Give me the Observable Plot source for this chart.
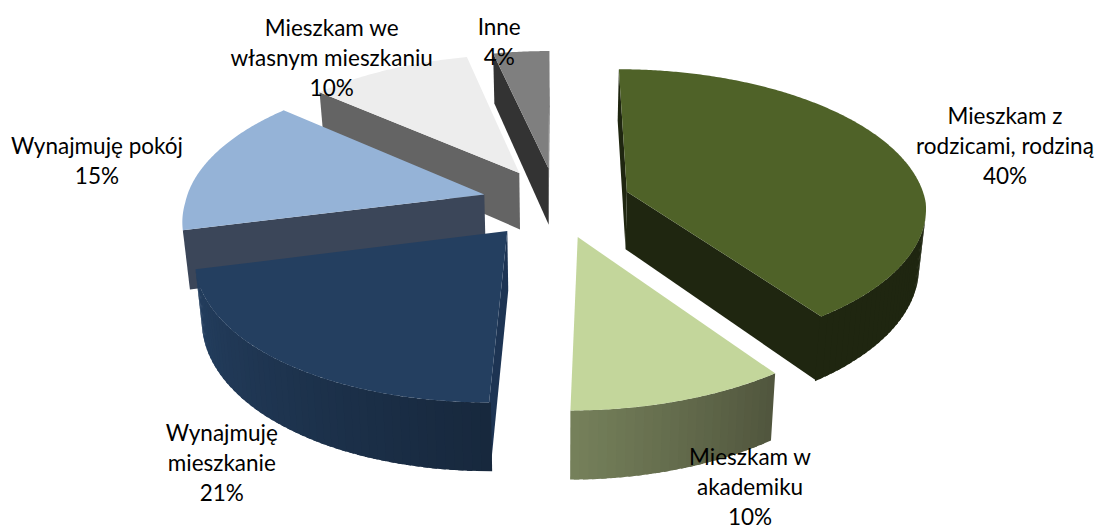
<!DOCTYPE html>
<html>
<head>
<meta charset="utf-8">
<style>
html,body{margin:0;padding:0;background:#fff;}
svg{display:block;}
</style>
<script src="https://cdn.jsdelivr.net/npm/d3@7"></script>
<script src="https://cdn.jsdelivr.net/npm/@observablehq/plot@0.6"></script>
</head>
<body>
<div id="chart"></div>
<script>
// Data
const categories = ["Mieszkam z\nrodzicami, rodziną", "Mieszkam w\nakademiku", "Wynajmuję\nmieszkanie", "Wynajmuję pokój", "Mieszkam we\nwłasnym mieszkaniu", "Inne"];
const values = [40, 10, 21, 15.4, 10.1, 3.5];

// Colours
const topColors = ["#4F6228", "#C3D69B", "#243F60", "#95B3D7", "#EDEDED", "#7F7F7F"];
const rimFrom = ["#1F2610", "#50553D", "#17283D", "#3B4659", "#646464", "#333333"];
const rimTo = ["#1F2610", "#76815B", "#243F60", "#3B4659", "#646464", "#333333"];
const edgeColors = ["#1F2610", "#50553D", "#1D3453", "#3B4659", "#646464", "#333333"];
const paintOrder = [5, 4, 3, 2, 1, 0];

// Camera / layout of the pie
const W = 1098, H = 528;
const cx = 556, cy = 202, rx = 299, ry = 141;
const perspective = 0.13, explode = 0.25, thickness = 58 / ry, skew = 11 / rx, floorShrink = 0.019;
const labelNudge = [[110, -6], [70, 85], [-61, 99], [-109, -4], [-57, -13], [-22, -11]];

const toRad = Math.PI / 180;
const arcs = d3.pie().sort(null)(values);

function project(u, v, drop = 0) {
  const w = 1 + perspective * v;
  const shrink = 1 - floorShrink * drop / thickness;
  return {x: (u / w + skew * Math.min(0, v)) * shrink, y: (v - drop) / w};
}

const faces = [];
let faceId = 0;
function addFace(points, fill) {
  const id = faceId++;
  points.concat([points[0]]).forEach((p) => faces.push({x: p.x, y: p.y, id, fill}));
}
const signed = (pts) => d3.polygonArea(pts.map((p) => [p.x * rx, -p.y * ry]));

paintOrder.forEach((i) => {
  const {startAngle: a0, endAngle: a1} = arcs[i];
  const mid = (a0 + a1) / 2;
  const eu = explode * Math.sin(mid), ev = explode * Math.cos(mid);
  const rim = (a, drop = 0) => project(eu + Math.sin(a), ev + Math.cos(a), drop);
  const apex = (drop = 0) => project(eu, ev, drop);
  const wall = (p0, p1, p1b, p0b, fill) => {
    const q = [p0, p1, p1b, p0b];
    const visible = signed(q) > 0;
    if (visible) addFace(q, fill);
    return visible;
  };
  // radial walls
  const startShown = wall(apex(), rim(a0), rim(a0, thickness), apex(thickness), edgeColors[i]);
  const endShown = wall(rim(a1), apex(), apex(thickness), rim(a1, thickness), edgeColors[i]);
  // rim wall, in thin bands so its shading can vary along the arc; each band overlaps the next,
  // and the outer bands overlap a visible radial wall so no seam shows
  const shade = d3.interpolateRgb(rimFrom[i], rimTo[i]);
  const steps = Math.max(4, Math.ceil((a1 - a0) / (1.5 * toRad)));
  const step = (a1 - a0) / steps;
  const tuck = 0.3 * toRad;
  const lo = startShown ? a0 - tuck : a0, hi = endShown ? a1 + tuck : a1;
  for (let s = 0; s < steps; ++s) {
    const b0 = s === 0 ? lo : a0 + step * s;
    const b1 = Math.min(hi, s === steps - 1 ? hi : a0 + step * (s + 1.6));
    wall(rim(b0), rim(b1), rim(b1, thickness), rim(b0, thickness), shade((s + 0.5) / steps));
  }
  // top face
  const outline = [apex()];
  const fine = Math.ceil((a1 - a0) / (0.5 * toRad));
  for (let s = 0; s <= fine; ++s) outline.push(rim(a0 + (a1 - a0) * s / fine));
  addFace(outline, topColors[i]);
});

const labels = categories.map((name, i) => {
  const mid = (arcs[i].startAngle + arcs[i].endAngle) / 2;
  const p = project((explode + 1) * Math.sin(mid), (explode + 1) * Math.cos(mid));
  return {
    x: p.x + labelNudge[i][0] / rx,
    y: p.y - labelNudge[i][1] / ry,
    text: `${name}\n${Math.round(values[i])}%`
  };
});

const chart = Plot.plot({
  width: W,
  height: H,
  margin: 0,
  x: {domain: [-cx / rx, (W - cx) / rx], range: [0, W], axis: null},
  y: {domain: [cy / ry, (cy - H) / ry], range: [0, H], axis: null},
  color: {type: "identity"},
  style: {background: "#fff", fontFamily: "Lato, 'Open Sans', sans-serif"},
  marks: [
    Plot.line(faces, {x: "x", y: "y", z: "id", fill: "fill", stroke: null, curve: "linear"}),
    Plot.text(labels, {x: "x", y: "y", text: "text", fontSize: 22.5, lineHeight: 1.333, fill: "#000", textAnchor: "middle"})
  ]
});
document.getElementById("chart").appendChild(chart);
</script>
</body>
</html>
